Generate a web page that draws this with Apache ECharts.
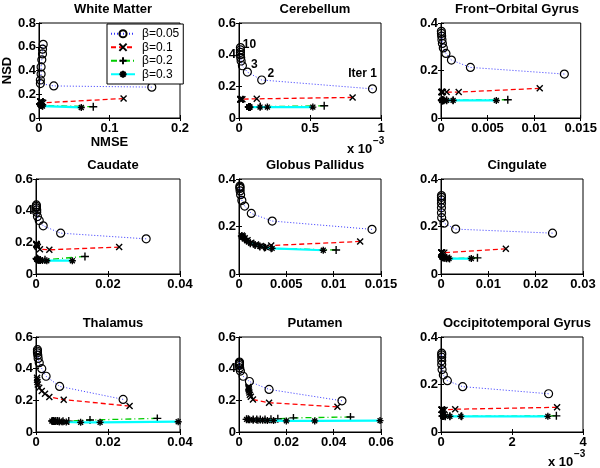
<!DOCTYPE html>
<html>
<head>
<meta charset="utf-8">
<script src="https://cdn.jsdelivr.net/npm/echarts@6/dist/echarts.min.js"></script>
<style>
	html, body { margin: 0; padding: 0; background: #fff; }
	#chart { width: 600px; height: 468px; }
</style>
</head>
<body>
<div id="chart"></div>
<script>
	// panels, left to right, top to bottom
	const titles = ["White Matter", "Cerebellum", "Front\u2212Orbital Gyrus", "Caudate", "Globus Pallidus", "Cingulate", "Thalamus", "Putamen", "Occipitotemporal Gyrus"]
	const xMax = [0.2, 0.001, 0.015, 0.04, 0.015, 0.03, 0.04, 0.06, 0.004]
	const xStep = [0.1, 0.0005, 0.005, 0.02, 0.005, 0.01, 0.02, 0.02, 0.002]
	const yMax = [0.8, 0.6, 0.4, 0.6, 0.4, 0.4, 0.6, 0.6, 0.4]
	const xScaled = [false, true, false, false, false, false, false, false, true] // shown as x 10^-3
	const betas = ["\u03b2=0.05", "\u03b2=0.1", "\u03b2=0.2", "\u03b2=0.3"]

	// [NMSE, NSD] per iteration, iter 1 first
	const wm05 = [[0.16, 0.26], [0.021, 0.27], [0.002, 0.29], [0.002, 0.32], [0.003, 0.37], [0.003, 0.43], [0.004, 0.49], [0.005, 0.54], [0.005, 0.58], [0.006, 0.62]]
	const wm01 = [[0.12, 0.164], [0.006, 0.128], [0.004, 0.13], [0.003, 0.133], [0.003, 0.135], [0.002, 0.136], [0.002, 0.137], [0.002, 0.138], [0.002, 0.139], [0.002, 0.14]]
	const wm02 = [[0.077, 0.095], [0.005, 0.105], [0.004, 0.11], [0.003, 0.112], [0.003, 0.114], [0.002, 0.116], [0.002, 0.117], [0.002, 0.118], [0.002, 0.119], [0.002, 0.12]]
	const wm03 = [[0.06, 0.089], [0.005, 0.1], [0.004, 0.105], [0.003, 0.108], [0.003, 0.11], [0.002, 0.112], [0.002, 0.113], [0.002, 0.114], [0.002, 0.115], [0.002, 0.116]]

	const cb05 = [[0.00094, 0.184], [0.00016, 0.24], [0.000059, 0.29], [0.000024, 0.33], [0.000015, 0.36], [0.000012, 0.38], [0.00001, 0.4], [0.00001, 0.415], [0.00001, 0.43], [0.00001, 0.445]]
	const cb01 = [[0.0008, 0.13], [0.000125, 0.121], [0.000024, 0.119], [0.000015, 0.119], [0.000012, 0.119], [0.00001, 0.119], [0.00001, 0.119], [0.00001, 0.119], [0.00001, 0.119], [0.00001, 0.119]]
	const cb02 = [[0.0006, 0.077], [0.00015, 0.072], [0.00008, 0.07], [0.00007, 0.07], [0.00007, 0.07], [0.00007, 0.07], [0.00007, 0.07], [0.00007, 0.07], [0.00007, 0.07], [0.00007, 0.07]]
	const cb03 = [[0.00052, 0.069], [0.0002, 0.069], [0.000148, 0.069], [0.000078, 0.069], [0.00007, 0.069], [0.00007, 0.069], [0.00007, 0.069], [0.00007, 0.069], [0.00007, 0.069], [0.00007, 0.069]]
	const cbIterLabels = ["Iter 1", "2", "3", "", "", "", "", "", "", "10"]

	const fog05 = [[0.01324, 0.185], [0.00316, 0.213], [0.00112, 0.244], [0.00053, 0.272], [0.00025, 0.295], [0.00015, 0.314], [0.0001, 0.33], [0.00007, 0.345], [0.00005, 0.356], [0.00004, 0.365]]
	const fog01 = [[0.0106, 0.125], [0.0019, 0.109], [0.0006, 0.109], [0.0002, 0.109], [0.0001, 0.109], [0.00008, 0.109], [0.00007, 0.109], [0.00006, 0.109], [0.00006, 0.109], [0.00006, 0.109]]
	const fog02 = [[0.00717, 0.077], [0.0013, 0.075], [0.0006, 0.075], [0.0003, 0.075], [0.0002, 0.075], [0.00015, 0.075], [0.00012, 0.075], [0.0001, 0.075], [0.0001, 0.075], [0.0001, 0.075]]
	const fog03 = [[0.00594, 0.074], [0.0013, 0.074], [0.0006, 0.074], [0.0003, 0.074], [0.0002, 0.074], [0.00015, 0.074], [0.00012, 0.074], [0.0001, 0.074], [0.0001, 0.074], [0.0001, 0.074]]

	const cau05 = [[0.0306, 0.222], [0.00685, 0.258], [0.002, 0.304], [0.0009, 0.338], [0.0004, 0.363], [0.0002, 0.39], [0.0002, 0.405], [0.0001, 0.418], [0.0001, 0.428], [0.0001, 0.436]]
	const cau01 = [[0.0231, 0.17], [0.0037, 0.153], [0.0011, 0.157], [0.0005, 0.17], [0.0003, 0.178], [0.0002, 0.183], [0.0002, 0.186], [0.0001, 0.188], [0.0001, 0.19], [0.0001, 0.19]]
	const cau02 = [[0.0136, 0.111], [0.0025, 0.09], [0.0012, 0.088], [0.0007, 0.09], [0.0005, 0.092], [0.0004, 0.094], [0.0003, 0.095], [0.0003, 0.096], [0.0002, 0.097], [0.0002, 0.098]]
	const cau03 = [[0.0101, 0.084], [0.003, 0.084], [0.0018, 0.085], [0.001, 0.087], [0.0007, 0.089], [0.0005, 0.09], [0.0004, 0.091], [0.0003, 0.092], [0.0003, 0.093], [0.0002, 0.094]]

	const gp05 = [[0.01405, 0.188], [0.00351, 0.223], [0.0013, 0.255], [0.0006, 0.286], [0.0003, 0.31], [0.00017, 0.334], [0.00012, 0.35], [0.0001, 0.36], [0.0001, 0.365], [0.0001, 0.37]]
	const gp01 = [[0.0128, 0.137], [0.0034, 0.12], [0.0029, 0.113], [0.0023, 0.118], [0.0018, 0.124], [0.0013, 0.132], [0.0009, 0.142], [0.0006, 0.151], [0.0004, 0.158], [0.0003, 0.162]]
	const gp02 = [[0.01026, 0.101], [0.0034, 0.108], [0.0027, 0.112], [0.0022, 0.116], [0.0017, 0.122], [0.0012, 0.13], [0.0008, 0.14], [0.0006, 0.148], [0.0004, 0.155], [0.0003, 0.16]]
	const gp03 = [[0.0089, 0.1], [0.0035, 0.108], [0.0028, 0.112], [0.0022, 0.117], [0.0017, 0.123], [0.0012, 0.131], [0.0008, 0.141], [0.0006, 0.149], [0.0004, 0.155], [0.0003, 0.16]]

	const cin05 = [[0.02356, 0.172], [0.0031, 0.189], [0.00064, 0.214], [0.00014, 0.237], [0.0001, 0.258], [0.0001, 0.279], [0.0001, 0.297], [0.0001, 0.312], [0.0001, 0.323], [0.0001, 0.33]]
	const cin01 = [[0.0137, 0.106], [0.0007, 0.09], [0.0003, 0.09], [0.0001, 0.09], [0.0001, 0.09], [0.0001, 0.09], [0.0001, 0.09], [0.0001, 0.09], [0.0001, 0.09], [0.0001, 0.09]]
	const cin02 = [[0.0077, 0.068], [0.0018, 0.065], [0.0012, 0.066], [0.0008, 0.068], [0.0005, 0.07], [0.0004, 0.071], [0.0003, 0.072], [0.0003, 0.072], [0.0002, 0.073], [0.0002, 0.073]]
	const cin03 = [[0.0064, 0.065], [0.0017, 0.065], [0.0011, 0.066], [0.0007, 0.068], [0.0005, 0.069], [0.0004, 0.07], [0.0003, 0.071], [0.0003, 0.071], [0.0002, 0.072], [0.0002, 0.072]]

	const tha05 = [[0.0242, 0.206], [0.00656, 0.288], [0.0028, 0.352], [0.0016, 0.4], [0.0009, 0.438], [0.0006, 0.465], [0.0005, 0.485], [0.0004, 0.5], [0.0004, 0.51], [0.0004, 0.52]]
	const tha01 = [[0.026, 0.164], [0.0077, 0.204], [0.0037, 0.221], [0.0025, 0.242], [0.0016, 0.259], [0.0009, 0.28], [0.0005, 0.3], [0.0004, 0.316], [0.0003, 0.33], [0.0003, 0.343]]
	const tha02 = [[0.0337, 0.086], [0.015, 0.076], [0.0091, 0.069], [0.0075, 0.068], [0.0065, 0.068], [0.006, 0.069], [0.0055, 0.069], [0.005, 0.07], [0.0048, 0.07], [0.0045, 0.07]]
	const tha03 = [[0.0395, 0.065], [0.0178, 0.061], [0.0124, 0.061], [0.0084, 0.063], [0.0072, 0.064], [0.0065, 0.065], [0.006, 0.066], [0.0052, 0.067], [0.0048, 0.068], [0.0044, 0.069]]

	const put05 = [[0.0435, 0.197], [0.0127, 0.269], [0.0044, 0.319], [0.00176, 0.352], [0.0006, 0.385], [0.0003, 0.405], [0.0002, 0.42], [0.0002, 0.43], [0.0002, 0.437], [0.0002, 0.442]]
	const put01 = [[0.0416, 0.159], [0.0127, 0.185], [0.0059, 0.205], [0.005, 0.222], [0.0046, 0.236], [0.0044, 0.25], [0.0042, 0.262], [0.0041, 0.272], [0.004, 0.28], [0.004, 0.286]]
	const put02 = [[0.0471, 0.095], [0.023, 0.089], [0.0164, 0.083], [0.0135, 0.08], [0.011, 0.079], [0.009, 0.079], [0.0075, 0.079], [0.006, 0.079], [0.004, 0.08], [0.0032, 0.08]]
	const put03 = [[0.0596, 0.072], [0.032, 0.07], [0.02, 0.07], [0.0146, 0.072], [0.012, 0.073], [0.01, 0.074], [0.008, 0.075], [0.006, 0.076], [0.0045, 0.078], [0.0032, 0.08]]

	const ot05 = [[0.00303, 0.161], [0.00061, 0.191], [0.00018, 0.216], [0.000066, 0.24], [0.00003, 0.263], [0.00002, 0.284], [0.00002, 0.3], [0.00002, 0.315], [0.00002, 0.325], [0.00002, 0.332]]
	const ot01 = [[0.00327, 0.104], [0.0004, 0.096], [0.0001, 0.093], [0.00005, 0.093], [0.00003, 0.094], [0.00002, 0.094], [0.00002, 0.094], [0.00002, 0.094], [0.00002, 0.094], [0.00002, 0.094]]
	const ot02 = [[0.00325, 0.068], [0.00058, 0.066], [0.00025, 0.066], [0.00012, 0.066], [0.00008, 0.067], [0.00006, 0.067], [0.00005, 0.067], [0.00005, 0.067], [0.00005, 0.067], [0.00005, 0.067]]
	const ot03 = [[0.00301, 0.066], [0.00056, 0.066], [0.00025, 0.066], [0.00012, 0.067], [0.00006, 0.068], [0.00005, 0.068], [0.00005, 0.068], [0.00005, 0.068], [0.00005, 0.068], [0.00005, 0.068]]

	const panels = [
		[wm05, wm01, wm02, wm03],
		[cb05, cb01, cb02, cb03],
		[fog05, fog01, fog02, fog03],
		[cau05, cau01, cau02, cau03],
		[gp05, gp01, gp02, gp03],
		[cin05, cin01, cin02, cin03],
		[tha05, tha01, tha02, tha03],
		[put05, put01, put02, put03],
		[ot05, ot01, ot02, ot03]
	]

	const colLeft = [36, 239, 441]
	const colWidth = [144, 142, 142]
	const rowTop = [23, 179, 337]
	const rowHeight = 95

	const font = "Liberation Sans, Arial, Helvetica, sans-serif"

	const lineStyles = [
		{ color: "#3333ff", type: [1, 2], width: 1 },
		{ color: "#ff0000", type: [5, 3], width: 1.3 },
		{ color: "#00cc00", type: [6, 3, 1, 3], width: 1.3 },
		{ color: "#00ffff", type: "solid", width: 2.2 }
	]
	const symbols = [
		"circle",
		"path://M0,0L10,10M10,0L0,10",
		"path://M5,0L5,10M0,5L10,5",
		"path://M5,0L5,10M0,5L10,5M1.5,1.5L8.5,8.5M8.5,1.5L1.5,8.5"
	]
	const symbolSizes = [8, 6, 8, 7]

	const chart = echarts.init(document.getElementById("chart"))

	const grid = []
	const xAxis = []
	const yAxis = []
	const series = []
	const title = []

	const tickFmt = (scaled) => (v) => {
		const n = scaled ? v * 1000 : v
		return String(+n.toFixed(4))
	}

	panels.forEach((data, p) => {
		const c = p % 3
		const r = Math.floor(p / 3)
		grid.push({
			left: colLeft[c],
			top: rowTop[r],
			width: colWidth[c],
			height: rowHeight,
			show: true,
			borderColor: "#000",
			borderWidth: 1,
			backgroundColor: "#fff"
		})
		title.push({
			text: titles[p],
			left: colLeft[c] + colWidth[c] / 2,
			top: rowTop[r] - 25,
			textAlign: "center",
			textStyle: { fontFamily: font, fontSize: 13, fontWeight: "bold", color: "#000" }
		})
		const labelStyle = { fontFamily: font, fontSize: 13, fontWeight: "bold", color: "#000" }
		xAxis.push({
			type: "value",
			gridIndex: p,
			min: 0,
			max: xMax[p],
			interval: xStep[p],
			axisLine: { show: true, lineStyle: { color: "#000", width: 1 } },
			axisTick: { show: true, inside: true, length: 3, lineStyle: { color: "#000" } },
			axisLabel: Object.assign({ margin: 4, formatter: tickFmt(xScaled[p]) }, labelStyle),
			splitLine: { show: false },
			name: p === 0 ? "NMSE" : "",
			nameLocation: "middle",
			nameGap: 17,
			nameTextStyle: labelStyle
		})
		xAxis.push({
			type: "value",
			gridIndex: p,
			position: "top",
			min: 0,
			max: xMax[p],
			interval: xStep[p],
			axisLine: { show: false },
			axisTick: { show: true, inside: true, length: 3, lineStyle: { color: "#000" } },
			axisLabel: { show: false },
			splitLine: { show: false }
		})
		yAxis.push({
			type: "value",
			gridIndex: p,
			min: 0,
			max: yMax[p],
			interval: 0.2,
			axisLine: { show: true, lineStyle: { color: "#000", width: 1 } },
			axisTick: { show: true, inside: true, length: 3, lineStyle: { color: "#000" } },
			axisLabel: Object.assign({ margin: 3, formatter: tickFmt(false) }, labelStyle),
			splitLine: { show: false },
			name: p === 0 ? "NSD" : "",
			nameLocation: "middle",
			nameGap: 21,
			nameTextStyle: labelStyle
		})
		yAxis.push({
			type: "value",
			gridIndex: p,
			position: "right",
			min: 0,
			max: yMax[p],
			interval: 0.2,
			axisLine: { show: false },
			axisTick: { show: true, inside: true, length: 3, lineStyle: { color: "#000" } },
			axisLabel: { show: false },
			splitLine: { show: false }
		})

		data.forEach((pts, b) => {
			let seriesData = pts
			if (p === 1 && b === 0) {
				// iteration labels on the Cerebellum beta=0.05 curve
				const offsets = { 0: [-10, -15], 1: [9, -6], 2: [7, -7], 9: [9, -3] }
				seriesData = pts.map((pt, i) => {
					if (!cbIterLabels[i]) return pt
					return {
						value: pt,
						label: {
							show: true,
							formatter: cbIterLabels[i],
							position: "inside",
							offset: offsets[i],
							fontFamily: font,
							fontSize: 12,
							fontWeight: "bold",
							color: "#000"
						}
					}
				})
			}
			series.push({
				name: betas[b],
				type: "line",
				xAxisIndex: p * 2,
				yAxisIndex: p * 2,
				data: seriesData,
				symbol: symbols[b],
				symbolSize: symbolSizes[b],
				showSymbol: true,
				lineStyle: lineStyles[b],
				itemStyle: { color: "rgba(0,0,0,0)", borderColor: "#000", borderWidth: b === 0 ? 1.2 : 1.4 },
				emphasis: { disabled: true },
				z: 2 + b
			})
		})
	})

	const supText = (x, y) => [
		{ type: "text", left: x, top: y, style: { text: "x 10", font: "bold 13px " + font, fill: "#000" } },
		{ type: "text", left: x + 26, top: y - 7, style: { text: "\u22123", font: "bold 10px " + font, fill: "#000" } }
	]

	chart.setOption({
		animation: false,
		backgroundColor: "#fff",
		title: title,
		grid: grid,
		xAxis: xAxis,
		yAxis: yAxis,
		series: series,
		legend: {
			data: betas,
			orient: "vertical",
			left: 107,
			top: 24,
			padding: [3, 4, 3, 3],
			itemGap: 0,
			itemWidth: 24,
			itemHeight: 9,
			backgroundColor: "#fff",
			borderColor: "#000",
			borderWidth: 1,
			borderRadius: 0,
			textStyle: { fontFamily: font, fontSize: 12, color: "#000", padding: [0, 0, 0, 2], lineHeight: 13.5 }
		},
		graphic: supText(347, 143).concat(supText(548, 456))
	})
</script>
</body>
</html>
